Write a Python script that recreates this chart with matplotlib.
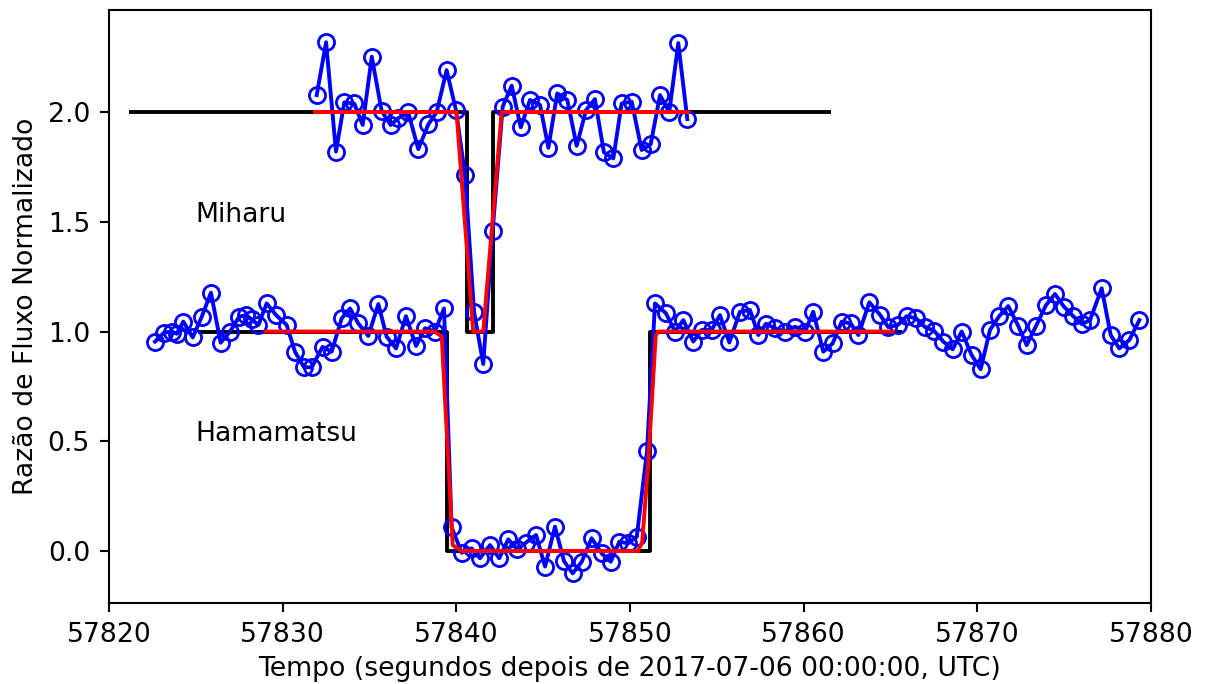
import matplotlib
matplotlib.use("Agg")
import matplotlib.pyplot as plt

# Hamamatsu observations
ham_t = [57822.65, 57823.17, 57823.61, 57823.90, 57824.28, 57824.82, 57825.34, 57825.87,
         57826.43, 57826.97, 57827.49, 57827.89, 57828.22, 57828.60, 57829.08, 57829.62,
         57830.23, 57830.71, 57831.23, 57831.67, 57832.30, 57832.82, 57833.40, 57833.88,
         57834.35, 57834.93, 57835.51, 57835.99, 57836.53, 57837.10, 57837.68, 57838.20,
         57838.77, 57839.29, 57839.73, 57840.31, 57840.88, 57841.36, 57841.94, 57842.47,
         57842.99, 57843.51, 57844.01, 57844.59, 57845.11, 57845.68, 57846.20, 57846.70,
         57847.22, 57847.79, 57848.37, 57848.89, 57849.38, 57849.90, 57850.39, 57850.98,
         57851.44, 57852.07, 57852.59, 57853.07, 57853.64, 57854.13, 57854.70, 57855.18,
         57855.72, 57856.33, 57856.91, 57857.39, 57857.83, 57858.35, 57858.92, 57859.50,
         57860.08, 57860.55, 57861.13, 57861.67, 57862.19, 57862.71, 57863.15, 57863.78,
         57864.39, 57864.87, 57865.43, 57865.93, 57866.47, 57866.99, 57867.50, 57868.04,
         57868.58, 57869.10, 57869.67, 57870.19, 57870.73, 57871.26, 57871.78, 57872.36,
         57872.84, 57873.38, 57873.95, 57874.47, 57874.99, 57875.52, 57876.01, 57876.49,
         57877.16, 57877.68, 57878.17, 57878.75, 57879.33]
ham_f = [0.954, 0.995, 1.000, 0.990, 1.045, 0.973, 1.067, 1.177,
         0.949, 1.000, 1.067, 1.075, 1.055, 1.030, 1.128, 1.075,
         1.030, 0.908, 0.837, 0.837, 0.930, 0.908, 1.060, 1.105,
         1.037, 0.980, 1.125, 0.976, 0.923, 1.070, 0.934, 1.015,
         1.000, 1.105, 0.108, -0.008, 0.012, -0.033, 0.027, -0.033,
         0.053, 0.008, 0.038, 0.073, -0.071, 0.111, -0.046, -0.102,
         -0.049, 0.058, -0.011, -0.049, 0.042, 0.035, 0.065, 0.455,
         1.128, 1.083, 1.000, 1.052, 0.954, 1.007, 1.007, 1.075,
         0.950, 1.090, 1.098, 0.984, 1.035, 1.015, 1.000, 1.022,
         1.000, 1.090, 0.908, 0.946, 1.045, 1.037, 0.984, 1.133,
         1.077, 1.020, 1.030, 1.070, 1.060, 1.020, 1.004, 0.954,
         0.919, 1.000, 0.893, 0.828, 1.007, 1.070, 1.116, 1.025,
         0.938, 1.025, 1.120, 1.171, 1.113, 1.070, 1.034, 1.052,
         1.197, 0.984, 0.923, 0.961, 1.052]

# Miharu observations
mih_t = [57831.96, 57832.50, 57833.07, 57833.55, 57834.12, 57834.61, 57835.13, 57835.70,
         57836.22, 57836.66, 57837.23, 57837.81, 57838.39, 57838.87, 57839.44, 57839.98,
         57840.50, 57841.02, 57841.55, 57842.09, 57842.67, 57843.19, 57843.71, 57844.24,
         57844.82, 57845.30, 57845.81, 57846.39, 57846.93, 57847.47, 57847.98, 57848.50,
         57849.04, 57849.52, 57850.10, 57850.67, 57851.19, 57851.73, 57852.26, 57852.78,
         57853.30]
mih_f = [2.077, 2.318, 1.820, 2.044, 2.039, 1.941, 2.252, 2.005,
         1.941, 1.972, 1.999, 1.831, 1.944, 2.000, 2.191, 2.009,
         1.713, 1.090, 0.852, 1.459, 2.025, 2.120, 1.930, 2.055,
         2.032, 1.837, 2.085, 2.055, 1.846, 2.009, 2.059, 1.816,
         1.789, 2.039, 2.047, 1.827, 1.853, 2.077, 2.000, 2.314,
         1.968]

# Step (box) models
ham_box_t = [57825.24, 57839.46, 57839.46, 57851.15, 57851.15, 57865.55]
ham_box_f = [1.0, 1.0, 0.0, 0.0, 1.0, 1.0]
mih_box_t = [57821.27, 57840.63, 57840.63, 57842.13, 57842.13, 57861.46]
mih_box_f = [2.0, 2.0, 1.0, 1.0, 2.0, 2.0]

# Fitted (smooth) models
ham_fit_t = [57829.04, 57838.77, 57839.16, 57839.79, 57840.31, 57850.46, 57850.70, 57851.05, 57851.48, 57851.62, 57865.14]
ham_fit_f = [1.0, 1.0, 0.976, 0.027, 0.0, 0.0, 0.04, 0.40, 0.98, 1.0, 1.0]
mih_fit_t = [57831.86, 57840.01, 57840.97, 57841.55, 57842.61, 57853.36]
mih_fit_f = [2.0, 2.0, 1.0, 1.0, 2.0, 2.0]

labels = ["Miharu", "Hamamatsu"]
label_x = [57825.0, 57825.0]
label_y = [1.5, 0.5]

FS = 9.6
plt.rcParams.update({
    "font.size": FS,
    "xtick.major.size": 3.3,
    "ytick.major.size": 3.3,
    "xtick.major.width": 0.75,
    "ytick.major.width": 0.75,
    "axes.linewidth": 0.75,
})

fig = plt.figure(figsize=(6.035, 3.42), dpi=200)
ax = fig.add_axes([0.0903, 0.1184, 0.8633, 0.867])

ax.plot(ham_box_t, ham_box_f, color="k", lw=1.4)
ax.plot(mih_box_t, mih_box_f, color="k", lw=1.4)
ax.plot(ham_t, ham_f, "bo-", mfc="none", lw=1.4, ms=5.8, mew=1.0)
ax.plot(mih_t, mih_f, "bo-", mfc="none", lw=1.4, ms=5.8, mew=1.0)
ax.plot(ham_fit_t, ham_fit_f, color="r", lw=1.4)
ax.plot(mih_fit_t, mih_fit_f, color="r", lw=1.4)

for s, x, y in zip(labels, label_x, label_y):
    ax.text(x, y, s, fontsize=FS)

ax.set_xlim(57820, 57880)
ax.set_ylim(-0.237, 2.465)
ax.set_xticks([57820, 57830, 57840, 57850, 57860, 57870, 57880])
ax.set_yticks([0.0, 0.5, 1.0, 1.5, 2.0])
ax.ticklabel_format(useOffset=False, style="plain", axis="x")
ax.set_xlabel("Tempo (segundos depois de 2017-07-06 00:00:00, UTC)", labelpad=3)
ax.set_ylabel("Razão de Fluxo Normalizado", labelpad=3)

fig.savefig("out.png", dpi=200)
